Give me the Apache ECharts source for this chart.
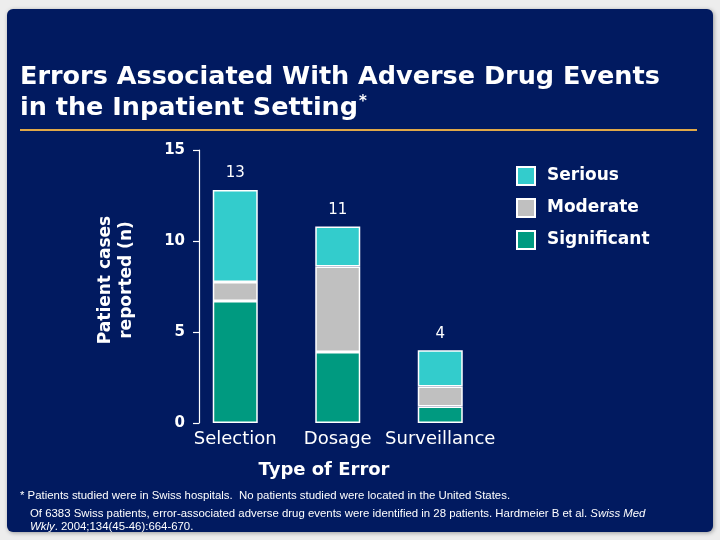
<!DOCTYPE html>
<html>
<head>
<meta charset="utf-8">
<script src="https://cdn.jsdelivr.net/npm/echarts@6/dist/echarts.min.js"></script>
<style>
html,body{margin:0;padding:0;background:#ededed;}
#c{width:720px;height:540px;}
</style>
</head>
<body>
<div id="c"></div>
<script>
var categories = ['Selection', 'Dosage', 'Surveillance'];
var significant = [6.7, 3.9, 0.9];
var moderate = [1.05, 4.7, 1.1];
var serious = [5.05, 2.2, 2.0];
var totalLabels = ['13', '11', '4'];
var yTicks = [0, 5, 10, 15];

var chart = echarts.init(document.getElementById('c'));
var white = '#ffffff';
var barBorder = { borderColor: '#ffffff', borderWidth: 1.5 };

chart.setOption({
  backgroundColor: '#ededed',
  animation: false,
  grid: { left: 184, width: 307.5, top: 150, height: 273 },
  legend: {
    orient: 'vertical',
    left: 511, top: 161,
    itemWidth: 18, itemHeight: 18, itemGap: 12,
    icon: 'rect',
    data: ['Serious', 'Moderate', 'Significant'],
    textStyle: { color: white, fontFamily: 'DejaVu Sans', fontWeight: 'bold', fontSize: 17, padding: [0, 0, 0, 7] }
  },
  xAxis: {
    type: 'category',
    data: categories,
    axisLine: { show: false },
    axisTick: { show: false },
    axisLabel: { interval: 0, color: white, fontFamily: 'DejaVu Sans', fontSize: 18, margin: 7 }
  },
  yAxis: {
    type: 'value',
    min: yTicks[0], max: yTicks[yTicks.length - 1], interval: 5,
    offset: -15,
    axisLine: { show: true, lineStyle: { color: white, width: 1.2 } },
    axisTick: { show: true, length: 6, lineStyle: { color: white, width: 1.2 } },
    splitLine: { show: false },
    axisLabel: { color: white, fontFamily: 'DejaVu Sans', fontWeight: 'bold', fontSize: 15, margin: 14 }
  },
  series: [
    { name: 'Significant', type: 'bar', stack: 'a', barWidth: 45, data: significant,
      itemStyle: Object.assign({ color: '#009a80' }, barBorder) },
    { name: 'Moderate', type: 'bar', stack: 'a', barWidth: 45, data: moderate,
      itemStyle: Object.assign({ color: '#c0c0c0' }, barBorder) },
    { name: 'Serious', type: 'bar', stack: 'a', barWidth: 45, data: serious,
      itemStyle: Object.assign({ color: '#33cccc' }, barBorder),
      label: { show: true, position: 'top', distance: 9, color: white,
        fontFamily: 'DejaVu Sans', fontSize: 15,
        formatter: function (p) { return totalLabels[p.dataIndex]; } } }
  ],
  graphic: [
    { type: 'rect', z: -10, shape: { x: 7, y: 9, width: 706, height: 523, r: 6 },
      style: { fill: '#011a60', shadowBlur: 4, shadowColor: 'rgba(0,0,0,0.35)', shadowOffsetX: 1, shadowOffsetY: 1 } },
    { type: 'text', left: 20, top: 64, z: 10,
      style: { text: 'Errors Associated With Adverse Drug Events', fill: white,
        font: 'bold 25.5px "DejaVu Sans"' } },
    { type: 'text', left: 20, top: 95, z: 10,
      style: { text: '{a|in the Inpatient Setting}{s|*}',
        rich: { a: { fill: white, font: 'bold 25.5px "DejaVu Sans"', verticalAlign: 'bottom' },
                s: { fill: white, font: 'bold 15px "DejaVu Sans"', verticalAlign: 'top', padding: [0, 0, 11, 1] } } } },
    { type: 'rect', z: 10, shape: { x: 20, y: 129, width: 677, height: 2 }, style: { fill: '#e0a848' } },
    { type: 'text', z: 10, x: 116, y: 280, rotation: Math.PI / 2,
      style: { text: 'Patient cases\nreported (n)', fill: white, font: 'bold 17px "DejaVu Sans"',
        align: 'center', verticalAlign: 'middle', lineHeight: 21 } },
    { type: 'text', z: 10, x: 324, y: 470,
      style: { text: 'Type of Error', fill: white, font: 'bold 18px "DejaVu Sans"',
        align: 'center', verticalAlign: 'middle' } },
    { type: 'text', z: 10, x: 20, y: 496,
      style: { text: '* Patients studied were in Swiss hospitals.  No patients studied were located in the United States.',
        fill: white, font: '11.4px "Liberation Sans"', verticalAlign: 'middle' } },
    { type: 'text', z: 10, x: 30, y: 514,
      style: { text: '{n|Of 6383 Swiss patients, error-associated adverse drug events were identified in 28 patients. Hardmeier B et al. }{i|Swiss Med}',
        verticalAlign: 'middle',
        rich: { n: { fill: white, font: '11.4px "Liberation Sans"' }, i: { fill: white, font: 'italic 11.4px "Liberation Sans"' } } } },
    { type: 'text', z: 10, x: 30, y: 527,
      style: { text: '{i|Wkly}{n|. 2004;134(45-46):664-670.}',
        verticalAlign: 'middle',
        rich: { n: { fill: white, font: '11.4px "Liberation Sans"' }, i: { fill: white, font: 'italic 11.4px "Liberation Sans"' } } } }
  ]
});
</script>
</body>
</html>
